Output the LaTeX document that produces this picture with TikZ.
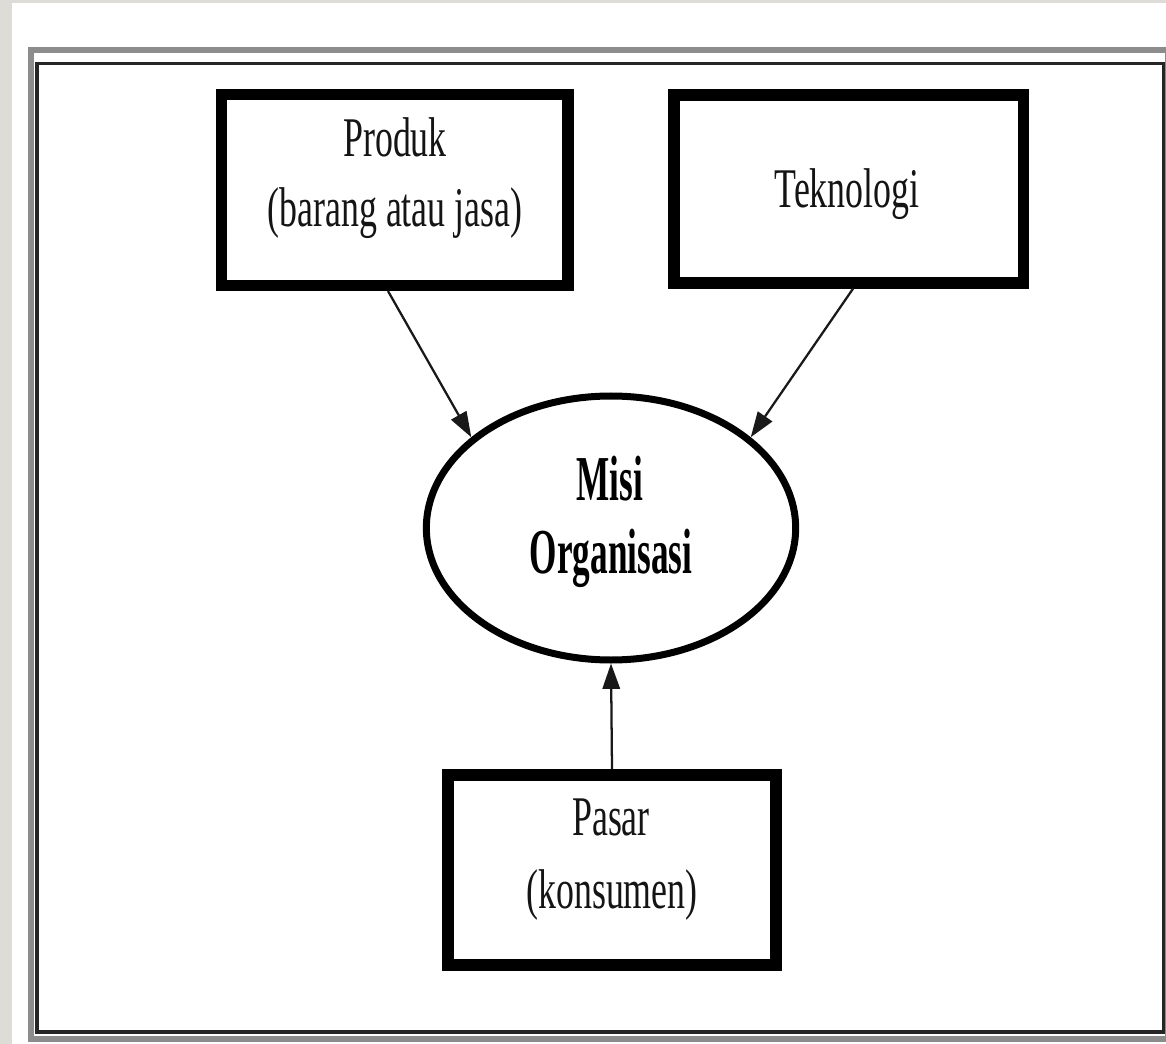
\documentclass[tikz,border=0pt]{standalone}
\usepackage{fontspec}
\usetikzlibrary{arrows.meta,shapes.geometric}
\newfontfamily\condreg[FakeStretch=0.64]{Liberation Serif}
\newfontfamily\condbold[FakeStretch=0.55]{Liberation Serif Bold}
\definecolor{bggray}{RGB}{221,220,215}
\begin{document}
\begin{tikzpicture}[x=0.75pt,y=-0.75pt,
  boxstyle/.style={draw=black,line width=8.5pt,rectangle,inner sep=0pt},
  ovalstyle/.style={draw=black,line width=5.25pt,ellipse,inner sep=0pt,minimum width=277pt,minimum height=198pt},
  regtxt/.style={anchor=base,inner sep=0pt,font=\condreg\fontsize{42pt}{52pt}\selectfont,text=black!92},
  boldtxt/.style={anchor=base,inner sep=0pt,font=\condbold\fontsize{48pt}{55pt}\selectfont,text=black},
  arr/.style={draw=black!90,line width=1.7pt,-{Triangle[length=19pt,width=13pt]}}]
\useasboundingbox (0,0) rectangle (1166,1044);
\fill[white] (0,0) rectangle (1166,1044);
\fill[bggray] (0,0) rectangle (12,1044);
\fill[bggray] (0,0) rectangle (1166,3);
% frame
\draw[black!45,line width=4.5pt] (30.5,50) rectangle (1168,1039);
\draw[black!85,line width=2.8pt] (37,63.5) rectangle (1163.5,1032);
% boxes
\node[boxstyle,minimum width=260pt,minimum height=143pt] (prod) at (394.5,190) {};
\node[boxstyle,minimum width=262pt,minimum height=141pt] (tek) at (848.5,189) {};
\node[boxstyle,minimum width=246pt,minimum height=142.5pt] (pasar) at (612,870) {};
\node[ovalstyle] (misi) at (611,528) {};
% texts
\node[regtxt] (prodA) at (395,157) {Produk};
\node[regtxt] (prodB) at (395,227) {(barang atau jasa)};
\node[regtxt] (tekA) at (847,208) {Teknologi};
\node[boldtxt] (misiA) at (610,500) {Misi};
\node[boldtxt] (misiB) at (611,573) {Organisasi};
\node[regtxt] (pasarA) at (611,835) {Pasar};
\node[regtxt] (pasarB) at (612,908) {(konsumen)};
% arrows
\draw[arr] ([xshift=-4.9pt]prod.south) -- (misi.147);
\draw[arr] ([xshift=3.4pt]tek.south) -- (misi.33);
\draw[arr] (pasar.north) -- (misi.south);
\end{tikzpicture}
\end{document}
